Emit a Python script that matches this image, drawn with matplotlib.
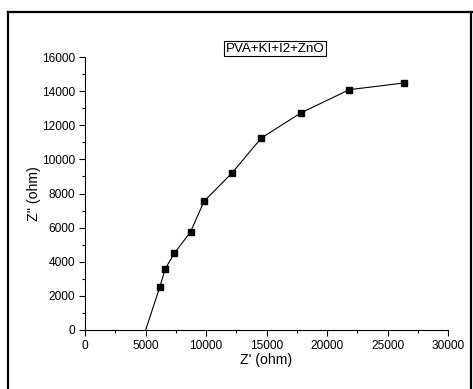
import matplotlib
matplotlib.use("Agg")
import matplotlib.pyplot as plt
from matplotlib.ticker import MultipleLocator
from matplotlib.lines import Line2D

plt.rcParams['font.family'] = ['Liberation Sans', 'DejaVu Sans']

# Nyquist data: real and imaginary impedance
z_real = [5014, 6171, 6639, 7383, 8733, 9835, 12149, 14573, 17824, 21846, 26336]
z_imag = [0, 2501, 3595, 4493, 5763, 7541, 9201, 11253, 12718, 14085, 14476]
sample_label = "PVA+KI+I2+ZnO"
x_label = "Z' (ohm)"
y_label = "Z'' (ohm)"

W, H = 473, 389
fig = plt.figure(figsize=(W / 100, H / 100), dpi=100)

# outer frame
frame_kw = dict(color='black', lw=1.6, transform=fig.transFigure)
fig.add_artist(Line2D([7.5 / W, 7.5 / W], [0, 1 - 11.8 / H], **frame_kw))
fig.add_artist(Line2D([7.5 / W, 1.0], [1 - 11.8 / H, 1 - 11.8 / H], **frame_kw))
fig.add_artist(Line2D([471 / W, 471 / W], [0, 1 - 11.8 / H], **frame_kw))

ax = fig.add_axes([85 / W, 59 / H, 363 / W, 273 / H])
ax.plot(z_real, z_imag, color='black', lw=0.8, marker='s', markersize=5.0,
        markevery=list(range(1, len(z_real))), markerfacecolor='black',
        markeredgecolor='black', clip_on=False)

ax.set_xlim(0, 30000)
ax.set_ylim(0, 16000)
ax.xaxis.set_major_locator(MultipleLocator(5000))
ax.xaxis.set_minor_locator(MultipleLocator(2500))
ax.yaxis.set_major_locator(MultipleLocator(2000))
ax.yaxis.set_minor_locator(MultipleLocator(1000))

for s in ('top', 'right'):
    ax.spines[s].set_visible(False)
for s in ('left', 'bottom'):
    ax.spines[s].set_linewidth(0.8)

ax.tick_params(which='major', direction='out', length=4, width=0.8,
               labelsize=8.6, pad=3)
ax.tick_params(which='minor', direction='out', length=2.2, width=0.8)

ax.set_xlabel(x_label, fontsize=10.2, labelpad=1)
ax.set_ylabel(y_label, fontsize=10.2, labelpad=1)

ax.text(0.523, 1.03, sample_label, transform=ax.transAxes, ha='center',
        va='center', fontsize=9.6,
        bbox=dict(boxstyle='square,pad=0.1', facecolor='white',
                  edgecolor='black', lw=0.8))

fig.savefig("out.png", dpi=100)
